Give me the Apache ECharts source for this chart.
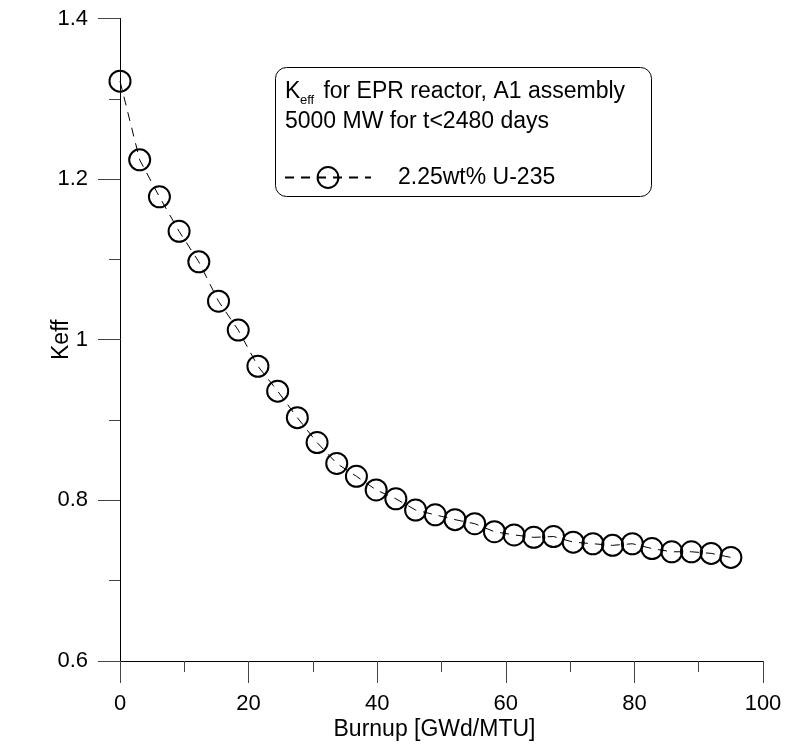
<!DOCTYPE html>
<html>
<head>
<meta charset="utf-8">
<script src="https://cdn.jsdelivr.net/npm/echarts@6/dist/echarts.min.js"></script>
<style>html,body{margin:0;padding:0;background:#fff}#c{width:792px;height:747px}</style>
</head>
<body>
<div id="c"></div>
<script>
const burnup = [0, 3.06, 6.13, 9.19, 12.26, 15.32, 18.39, 21.45, 24.52, 27.58, 30.65, 33.71, 36.77, 39.84, 42.9, 45.97, 49.03, 52.1, 55.16, 58.23, 61.29, 64.35, 67.42, 70.48, 73.55, 76.61, 79.68, 82.74, 85.81, 88.87, 91.94, 95.0];
const keff = [1.322, 1.224, 1.178, 1.135, 1.097, 1.048, 1.012, 0.967, 0.936, 0.903, 0.872, 0.846, 0.830, 0.813, 0.802, 0.788, 0.782, 0.776, 0.771, 0.761, 0.757, 0.754, 0.755, 0.748, 0.746, 0.744, 0.746, 0.740, 0.736, 0.736, 0.734, 0.729];
const seriesName = '2.25wt% U-235';
const titleLine1a = 'K';
const titleLine1sub = 'eff';
const titleLine1b = ' for EPR reactor, A1 assembly';
const titleLine2 = '5000 MW for t<2480 days';
const xName = 'Burnup [GWd/MTU]';
const yName = 'Keff';

const FONT = 'Liberation Sans, Arial, sans-serif';
const chart = echarts.init(document.getElementById('c'), null, {renderer: 'canvas'});
const pts = burnup.map((b, i) => [b, keff[i]]);

chart.setOption({
  animation: false,
  backgroundColor: '#fff',
  grid: {left: 120, top: 18.5, right: 29, bottom: 86, containLabel: false},
  xAxis: {
    type: 'value', min: 0, max: 100, interval: 20,
    name: xName, nameLocation: 'middle', nameGap: 57, nameMoveOverlap: false,
    nameTextStyle: {fontFamily: FONT, fontSize: 23, color: '#000', padding: [0, 14, 0, 0]},
    axisLine: {show: true, onZero: false, lineStyle: {color: '#000', width: 1}},
    axisTick: {show: true, inside: false, length: 22, lineStyle: {color: '#444'}},
    minorTick: {show: true, splitNumber: 2, length: 11, lineStyle: {color: '#444'}},
    axisLabel: {fontFamily: FONT, fontSize: 22, color: '#000', margin: 32},
    splitLine: {show: false}
  },
  yAxis: {
    type: 'value', min: 0.6, max: 1.4, interval: 0.2,
    name: yName, nameLocation: 'middle', nameGap: 47, nameRotate: 90, nameMoveOverlap: false,
    nameTextStyle: {fontFamily: FONT, fontSize: 23, color: '#000'},
    axisLine: {show: true, onZero: false, lineStyle: {color: '#000', width: 1}},
    axisTick: {show: true, inside: false, length: 22, lineStyle: {color: '#444'}},
    minorTick: {show: true, splitNumber: 2, length: 11, lineStyle: {color: '#444'}},
    axisLabel: {fontFamily: FONT, fontSize: 22, color: '#000', margin: 32},
    splitLine: {show: false}
  },
  legend: {
    show: true,
    left: 279, top: 161,
    itemWidth: 86, itemHeight: 26,
    textStyle: {fontFamily: FONT, fontSize: 23, color: '#000', padding: [0, 0, 0, 22]},
    data: [seriesName],
    z: 10
  },
  graphic: [
    {type: 'rect', z: 1, shape: {x: 275.5, y: 67.5, width: 376, height: 129, r: 11},
     style: {fill: '#fff', stroke: '#000', lineWidth: 1}},
    {type: 'text', z: 11, x: 285, y: 92, style: {text: titleLine1a, font: '23px ' + FONT, fill: '#000', verticalAlign: 'middle'}},
    {type: 'text', z: 11, x: 300, y: 100, style: {text: titleLine1sub, font: '13px ' + FONT, fill: '#000', verticalAlign: 'middle'}},
    {type: 'text', z: 11, x: 317, y: 92, style: {text: titleLine1b, font: '23px ' + FONT, fill: '#000', verticalAlign: 'middle'}},
    {type: 'text', z: 11, x: 285, y: 122, style: {text: titleLine2, font: '23px ' + FONT, fill: '#000', verticalAlign: 'middle'}}
  ],
  series: [{
    name: seriesName,
    type: 'line',
    data: pts,
    symbol: 'circle',
    symbolSize: 21,
    showAllSymbol: true,
    clip: false,
    lineStyle: {color: '#000', width: 1, type: [9, 7]},
    itemStyle: {color: 'rgba(0,0,0,0)', borderColor: '#000', borderWidth: 2},
    z: 5
  }]
});
</script>
</body>
</html>
